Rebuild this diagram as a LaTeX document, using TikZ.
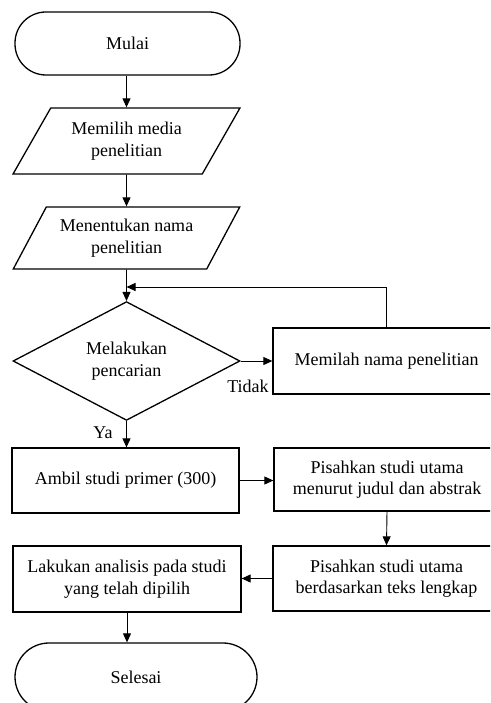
\documentclass[tikz,border=0pt]{standalone}
\usepackage{fontspec}
\setmainfont{Liberation Serif}
\usetikzlibrary{shapes.geometric,arrows.meta}
\tikzset{
  base/.style={draw, line width=1.3pt, align=center, font=\fontsize{18}{21.5}\selectfont, inner sep=0pt},
  term/.style={base, rectangle, rounded corners=#1},
  procbox/.style={base, rectangle},
  iobox/.style={base, trapezium, trapezium left angle=54, trapezium right angle=126, trapezium stretches=true},
  decision/.style={base, diamond},
  arr/.style={line width=0.9pt, -{Triangle[length=9pt,width=8pt]}},
  lbl/.style={font=\fontsize{18}{21.5}\selectfont, inner sep=0pt}
}
\begin{document}
\begin{tikzpicture}[x=1pt,y=-1pt]
\useasboundingbox (0,0) rectangle (490,703);
\clip (0,0) rectangle (490,703);
\fill[white] (0,0) rectangle (490,703);
\node[term=31pt, minimum width=225pt, minimum height=63pt] (mulai) at (127.5,43.5) {Mulai};
\node[iobox, minimum width=227pt, minimum height=66pt] (p1) at (126.5,141) {Memilih media\\penelitian};
\node[iobox, minimum width=227pt, minimum height=62pt] (p2) at (126.5,238) {Menentukan nama\\penelitian};
\node[decision, minimum width=227pt, minimum height=112pt] (dec) at (126.5,361) {Melakukan\\pencarian};
\node[procbox, minimum width=227pt, minimum height=66pt] (memilah) at (386.5,361) {Memilah nama penelitian};
\node[procbox, minimum width=227pt, minimum height=65pt] (ambil) at (125.5,480.5) {Ambil studi primer (300)};
\node[procbox, minimum width=226pt, minimum height=63pt] (pisah1) at (387,479.5) {Pisahkan studi utama\\menurut judul dan abstrak};
\node[procbox, minimum width=227pt, minimum height=65pt] (pisah2) at (386.5,578.5) {Pisahkan studi utama\\berdasarkan teks lengkap};
\node[procbox, minimum width=228pt, minimum height=66pt] (lakukan) at (127,579) {Lakukan analisis pada studi\\yang telah dipilih};
\node[term=34pt, minimum width=242pt, minimum height=68pt] (selesai) at (136,677) {Selesai};
\node[lbl] (tidak) at (248,386) {Tidak};
\node[lbl] (ya) at (103,433) {Ya};
\coordinate (j) at (126.5,287);
\draw[arr] (mulai.south -| p1.north) -- (p1.north);
\draw[arr] (p1.south) -- (p2.north);
\draw[arr] (p2.south) -- (dec.north);
\draw[arr] (memilah.north) |- (j);
\draw[arr] (dec.east) -- (memilah.west);
\draw[arr] (dec.south) -- (dec.south |- ambil.north);
\draw[arr] (ambil.east) -- (ambil.east -| pisah1.west);
\draw[arr] (pisah1.south) -- (pisah2.north);
\draw[arr] (pisah2.west) -- (pisah2.west -| lakukan.east);
\draw[arr] (lakukan.south) -- (lakukan.south |- selesai.north);
\end{tikzpicture}
\end{document}
